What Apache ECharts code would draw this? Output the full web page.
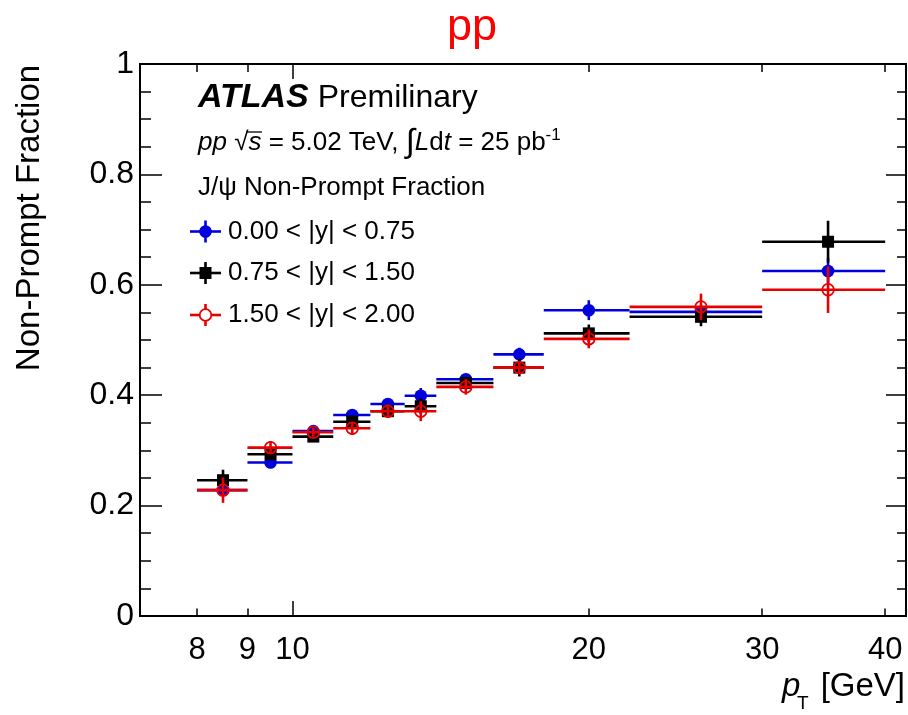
<!DOCTYPE html>
<html>
<head>
<meta charset="utf-8">
<script src="https://cdn.jsdelivr.net/npm/echarts@6/dist/echarts.min.js"></script>
<style>
  html, body { margin: 0; padding: 0; background: #ffffff; }
  #chart { width: 908px; height: 715px; }
</style>
</head>
<body>
<div id="chart"></div>
<script>
// pT bins [GeV]
const binLow    = [8, 9, 10, 11, 12, 13, 14, 16, 18, 22, 30];
const binHigh   = [9, 10, 11, 12, 13, 14, 16, 18, 22, 30, 40];
const binCenter = [8.5, 9.5, 10.5, 11.5, 12.5, 13.5, 15, 17, 20, 26, 35];

// Non-prompt J/psi fraction per rapidity slice
const fracCentral = [0.228, 0.278, 0.335, 0.364, 0.384, 0.399, 0.429, 0.474, 0.554, 0.551, 0.625];
const errCentral  = [0.010, 0.008, 0.006, 0.008, 0.008, 0.014, 0.010, 0.012, 0.018, 0.010, 0.024];

const fracMiddle  = [0.246, 0.293, 0.325, 0.352, 0.371, 0.380, 0.422, 0.450, 0.512, 0.542, 0.678];
const errMiddle   = [0.019, 0.010, 0.008, 0.010, 0.010, 0.014, 0.010, 0.016, 0.016, 0.017, 0.038];

const fracForward = [0.228, 0.305, 0.333, 0.340, 0.371, 0.371, 0.415, 0.450, 0.502, 0.560, 0.591];
const errForward  = [0.023, 0.012, 0.008, 0.012, 0.012, 0.018, 0.014, 0.012, 0.017, 0.024, 0.042];

// axis ticks
const xMajorTicks = [10];
const xMinorTicks = [8, 9, 20, 30, 40];
const xTickLabels = [8, 9, 10, 20, 30, 40];

const FONT = 'Liberation Sans, Arial, Helvetica, sans-serif';
const BLUE = '#0000dc';
const BLACK = '#000000';
const RED = '#e80000';
const BAR_W = 2.6;

function errorBarSeries(name, values, errors, color, marker) {
  return {
    type: 'custom',
    name: name,
    xAxisIndex: 0,
    yAxisIndex: 0,
    clip: false,
    data: values.map((v, i) => [binCenter[i], binLow[i], binHigh[i], v, errors[i]]),
    encode: { x: 0, y: 3 },
    renderItem: function (params, api) {
      const xc = api.value(0), xl = api.value(1), xh = api.value(2);
      const y = api.value(3), e = api.value(4);
      const c = api.coord([xc, y]);
      const l = api.coord([xl, y]);
      const h = api.coord([xh, y]);
      const t = api.coord([xc, y + e]);
      const b = api.coord([xc, y - e]);
      const children = [
        { type: 'line', shape: { x1: l[0], y1: l[1], x2: h[0], y2: h[1] },
          style: { stroke: color, lineWidth: BAR_W } },
        { type: 'line', shape: { x1: t[0], y1: t[1], x2: b[0], y2: b[1] },
          style: { stroke: color, lineWidth: BAR_W } }
      ];
      if (marker === 'dot') {
        children.push({ type: 'circle', shape: { cx: c[0], cy: c[1], r: 6.3 },
          style: { fill: color } });
      } else if (marker === 'square') {
        children.push({ type: 'rect', shape: { x: c[0] - 6, y: c[1] - 6, width: 12, height: 12 },
          style: { fill: color } });
      } else {
        children.push({ type: 'circle', shape: { cx: c[0], cy: c[1], r: 5.8 },
          style: { fill: 'none', stroke: color, lineWidth: 1.8 } });
      }
      return { type: 'group', children: children };
    }
  };
}

const tickLine = { color: '#000', width: 1.5 };
const logX = {
  type: 'log', logBase: 10, min: 7, max: 42,
  axisLine: { show: false },
  splitLine: { show: false }
};

function legendRow(y, color, marker, label) {
  const items = [
    { type: 'line', shape: { x1: 190, y1: y, x2: 221, y2: y }, style: { stroke: color, lineWidth: BAR_W } },
    { type: 'line', shape: { x1: 205.5, y1: y - 11, x2: 205.5, y2: y + 11 }, style: { stroke: color, lineWidth: BAR_W } }
  ];
  if (marker === 'dot') {
    items.push({ type: 'circle', shape: { cx: 205.5, cy: y, r: 6.3 }, style: { fill: color } });
  } else if (marker === 'square') {
    items.push({ type: 'rect', shape: { x: 199.5, y: y - 6, width: 12, height: 12 }, style: { fill: color } });
  } else {
    items.push({ type: 'circle', shape: { cx: 205.5, cy: y, r: 5.8 }, style: { fill: '#fff', stroke: color, lineWidth: 1.8 } });
  }
  items.push({ type: 'text', x: 228, y: y, style: { text: label, font: '26px ' + FONT, fill: '#000', verticalAlign: 'middle' } });
  return items;
}

const chart = echarts.init(document.getElementById('chart'), null, { renderer: 'canvas' });

chart.setOption({
  backgroundColor: '#ffffff',
  animation: false,
  title: {
    text: 'pp', left: 472, top: 5, padding: 0, textAlign: 'center',
    textStyle: { color: '#ff0000', fontSize: 45, fontWeight: 'normal', fontFamily: FONT }
  },
  grid: {
    left: 140, right: 2, top: 64, bottom: 99,
    show: true, borderColor: '#000', borderWidth: 2,
    containLabel: false, outerBoundsMode: 'none'
  },
  xAxis: [
    Object.assign({}, logX, {
      position: 'bottom',
      axisTick: { inside: true, length: 15, lineStyle: tickLine, customValues: xMajorTicks },
      axisLabel: { customValues: xTickLabels, fontSize: 31, color: '#000', fontFamily: FONT, margin: 19 }
    }),
    Object.assign({}, logX, {
      position: 'bottom',
      axisTick: { inside: true, length: 7.5, lineStyle: tickLine, customValues: xMinorTicks },
      axisLabel: { show: false }
    }),
    Object.assign({}, logX, {
      position: 'top',
      axisTick: { inside: true, length: 15, lineStyle: tickLine, customValues: xMajorTicks },
      axisLabel: { show: false }
    }),
    Object.assign({}, logX, {
      position: 'top',
      axisTick: { inside: true, length: 8, lineStyle: tickLine, customValues: xMinorTicks },
      axisLabel: { show: false }
    })
  ],
  yAxis: [
    {
      type: 'value', min: 0, max: 1, interval: 0.2, position: 'left',
      axisLine: { show: false },
      splitLine: { show: false },
      axisTick: { inside: true, length: 22, lineStyle: tickLine },
      minorTick: { show: true, splitNumber: 4, length: 11, lineStyle: tickLine },
      minorSplitLine: { show: false },
      axisLabel: { fontSize: 32, color: '#000', fontFamily: FONT, margin: 6 }
    },
    {
      type: 'value', min: 0, max: 1, interval: 0.2, position: 'right',
      axisLine: { show: false },
      splitLine: { show: false },
      axisTick: { inside: true, length: 20, lineStyle: tickLine },
      minorTick: { show: true, splitNumber: 4, length: 9, lineStyle: tickLine },
      minorSplitLine: { show: false },
      axisLabel: { show: false }
    }
  ],
  graphic: [
    // axis titles
    { type: 'text', x: 30, y: 218, rotation: Math.PI / 2, style: {
        text: 'Non-Prompt Fraction', font: '33px ' + FONT, fill: '#000',
        align: 'center', verticalAlign: 'middle' } },
    { type: 'text', x: 782, y: 687, style: {
        text: 'p', font: 'italic 33px ' + FONT, fill: '#000', verticalAlign: 'middle' } },
    { type: 'text', x: 797, y: 704, style: {
        text: 'T', font: '19px ' + FONT, fill: '#000', verticalAlign: 'middle' } },
    { type: 'text', x: 905, y: 687, style: {
        text: '[GeV]', font: '33px ' + FONT, fill: '#000', align: 'right', verticalAlign: 'middle' } },
    // experiment label
    { type: 'text', x: 198, y: 98, style: {
        text: '{b|ATLAS} Premilinary', font: '32px ' + FONT, fill: '#000', verticalAlign: 'middle',
        rich: { b: { fontWeight: 'bold', fontStyle: 'italic', fontSize: 34, fontFamily: FONT } } } },
    { type: 'text', x: 198, y: 143, style: {
        text: '{i|pp} √{i|s} = 5.02 TeV, {int|∫}{i|L}d{i|t} = 25 pb{sup|-1}',
        font: '26px ' + FONT, fill: '#000', verticalAlign: 'middle',
        rich: {
          i: { fontStyle: 'italic', fontSize: 26, fontFamily: FONT },
          int: { fontSize: 33, fontFamily: FONT },
          sup: { fontSize: 17, fontFamily: FONT, verticalAlign: 'top' }
        } } },
    { type: 'line', shape: { x1: 246.5, y1: 132, x2: 262, y2: 132 }, style: { stroke: '#000', lineWidth: 1.3 } },
    { type: 'text', x: 198, y: 188, style: {
        text: 'J/ψ Non-Prompt Fraction', font: '26px ' + FONT, fill: '#000', verticalAlign: 'middle' } },
    { type: 'group', children: legendRow(231.5, BLUE, 'dot', '0.00 < |y| < 0.75') },
    { type: 'group', children: legendRow(273, BLACK, 'square', '0.75 < |y| < 1.50') },
    { type: 'group', children: legendRow(315, RED, 'open', '1.50 < |y| < 2.00') }
  ],
  series: [
    errorBarSeries('0.00 < |y| < 0.75', fracCentral, errCentral, BLUE, 'dot'),
    errorBarSeries('0.75 < |y| < 1.50', fracMiddle, errMiddle, BLACK, 'square'),
    errorBarSeries('1.50 < |y| < 2.00', fracForward, errForward, RED, 'open')
  ]
});
</script>
</body>
</html>
